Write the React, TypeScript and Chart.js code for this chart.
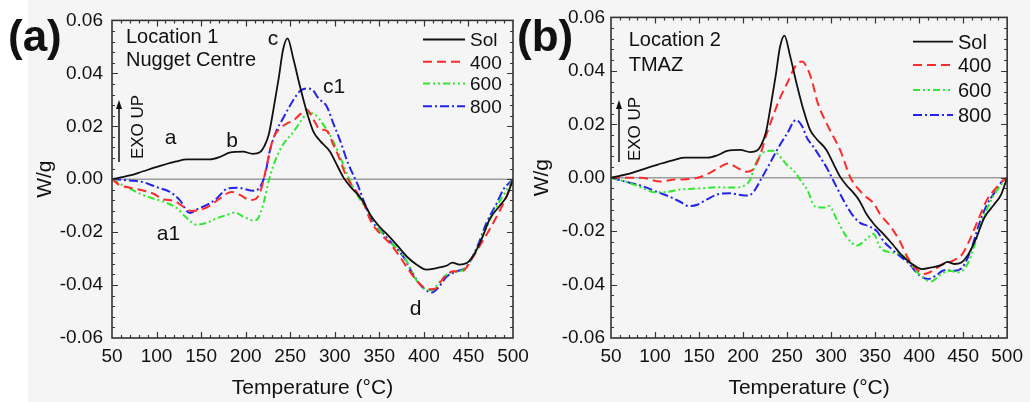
import React, { useEffect, useRef } from "react";
import { Chart, registerables } from "chart.js";

Chart.register(...registerables);

const FONT = "'Liberation Sans', Arial, Helvetica, sans-serif";

// ---------- shared axes ----------
const xTicksMajor = [50, 100, 150, 200, 250, 300, 350, 400, 450, 500];
const seriesNames = ["Sol", "400", "600", "800"];

// ---------- Sol (identical curve in both panels) ----------
const solT = [50, 60, 70, 85, 104, 122, 134, 160, 171, 182, 197, 208, 216, 221, 226, 231, 237, 242, 247, 253.5, 261, 268.5, 276, 283.5, 294.5, 303, 310, 318, 325, 332, 340, 349, 358, 370, 381, 392, 403, 414, 426, 432, 440, 448, 456, 465, 474, 485, 493, 500];
const solW = [0, 0.0007, 0.0014, 0.003, 0.005, 0.0067, 0.0075, 0.0075, 0.0084, 0.01, 0.0104, 0.0096, 0.0102, 0.0125, 0.017, 0.026, 0.038, 0.049, 0.0532, 0.0455, 0.035, 0.0255, 0.018, 0.0145, 0.0105, 0.005, 0.0005, -0.003, -0.0055, -0.0085, -0.0135, -0.0175, -0.0206, -0.025, -0.0293, -0.0323, -0.0342, -0.0336, -0.0326, -0.0315, -0.0323, -0.0317, -0.0286, -0.0225, -0.015, -0.0101, -0.0064, 0];

// ---------- Panel (a) Location 1, Nugget Centre ----------
const a400T = [50, 59, 70, 81, 96, 108, 119, 130, 139, 149, 160, 171, 184, 194, 205, 212, 218, 224, 231, 239, 246, 254, 261, 268.5, 276, 283, 291, 298, 306, 313, 323, 332, 341, 351, 362, 373, 384, 396, 405, 412.5, 422, 433, 444, 452, 463, 474, 484, 493, 500];
const a400W = [0, -0.0023, -0.0032, -0.004, -0.0054, -0.0077, -0.0081, -0.0104, -0.012, -0.0116, -0.01, -0.0073, -0.0048, -0.006, -0.0079, -0.0073, -0.003, 0.0057, 0.0156, 0.0193, 0.021, 0.0223, 0.0245, 0.0263, 0.0226, 0.0189, 0.0183, 0.0133, 0.0072, 0.001, -0.004, -0.0089, -0.0163, -0.0206, -0.0243, -0.0293, -0.0348, -0.0398, -0.0416, -0.0414, -0.0373, -0.0348, -0.0346, -0.0311, -0.025, -0.0188, -0.0126, -0.0064, 0];

const a600T = [50, 59, 70, 85, 96, 108, 123, 134, 145, 156, 168, 179, 188, 197, 209, 214, 220, 226, 233, 242, 254, 262, 270, 278, 287, 297, 306, 315, 326, 336, 347, 358, 370, 381, 390, 399, 409, 418, 429, 441, 448, 459, 471, 482, 493, 500];
const a600W = [0, -0.0017, -0.0036, -0.006, -0.0073, -0.0085, -0.011, -0.0147, -0.0172, -0.0165, -0.0147, -0.0135, -0.0126, -0.0141, -0.0156, -0.0147, -0.0091, -0.0005, 0.0069, 0.0131, 0.018, 0.022, 0.025, 0.0244, 0.0207, 0.0152, 0.0084, 0.001, -0.0064, -0.0114, -0.0175, -0.0225, -0.0262, -0.0311, -0.0373, -0.041, -0.042, -0.0385, -0.0354, -0.0348, -0.033, -0.0268, -0.0175, -0.0101, -0.004, 0];

const a800T = [50, 70, 85, 100, 115, 126, 137.5, 145, 156, 167.5, 179, 190, 209, 216, 222, 227, 235, 242, 252, 261, 268, 275, 281.5, 291, 298, 306, 315, 325, 334, 343, 353, 366, 377, 388, 399, 409, 416, 426, 437, 448, 459, 470.5, 482, 489, 500];
const a800W = [0, -0.0005, -0.0011, -0.003, -0.0048, -0.0079, -0.0128, -0.0114, -0.0098, -0.0073, -0.0036, -0.0032, -0.0044, -0.003, 0.002, 0.0106, 0.0186, 0.023, 0.0291, 0.0333, 0.0343, 0.0338, 0.0306, 0.0275, 0.0214, 0.0146, 0.0059, -0.0015, -0.0095, -0.0163, -0.02, -0.025, -0.0293, -0.036, -0.041, -0.0428, -0.041, -0.0367, -0.0348, -0.033, -0.0262, -0.0163, -0.0089, -0.004, 0];

// ---------- Panel (b) Location 2, TMAZ ----------
const b400T = [50, 69, 84, 106, 122, 140, 155, 170, 183, 193, 204, 211, 219, 226, 234, 241, 250, 260, 267, 273, 278.5, 284.5, 296, 311, 322, 337, 348, 356, 367, 378, 387, 397, 406, 415.5, 427, 438, 449, 458.5, 468, 477, 487, 496, 500];
const b400W = [0, 0, 0, -0.0014, -0.0007, -0.0005, 0.0007, 0.0032, 0.0053, 0.0038, 0.0022, 0.003, 0.0081, 0.0156, 0.023, 0.0291, 0.0353, 0.042, 0.0435, 0.041, 0.036, 0.0283, 0.0196, 0.0098, 0, -0.0064, -0.0095, -0.0138, -0.0181, -0.0237, -0.0299, -0.0342, -0.036, -0.0348, -0.0323, -0.0311, -0.0286, -0.0225, -0.015, -0.0083, -0.004, -0.0009, 0];

const b600T = [50, 69, 84, 99, 110, 129, 151, 170, 189, 200, 207.5, 215, 222.5, 234, 243.5, 249, 258, 266, 273.5, 281, 292, 297.5, 307, 318, 329.5, 340.5, 348, 355.5, 366.5, 378, 384, 393, 404, 413.5, 423, 434, 445, 455, 462, 471.5, 481, 490, 500];
const b600W = [0, -0.0017, -0.0036, -0.0054, -0.0054, -0.0044, -0.004, -0.0036, -0.0037, -0.0032, -0.0011, 0.0057, 0.0094, 0.0101, 0.0073, 0.0051, 0.0024, -0.0013, -0.0049, -0.0106, -0.0112, -0.0106, -0.016, -0.0223, -0.0254, -0.0229, -0.021, -0.026, -0.0279, -0.0285, -0.0299, -0.0336, -0.0373, -0.0388, -0.0367, -0.0348, -0.0354, -0.0323, -0.0262, -0.0163, -0.0089, -0.004, 0];

const b800T = [50, 69, 84, 103, 118, 129, 138, 148, 159, 174, 185, 196, 206, 213, 220.5, 230, 239, 250.5, 260, 267, 273, 279, 285, 296, 305, 315, 324, 333, 342.5, 352, 359.5, 369, 378, 389, 398.5, 410, 419, 428.5, 440, 449, 458.5, 468, 477, 486.5, 494, 500];
const b800W = [0, -0.0017, -0.003, -0.0054, -0.0073, -0.0091, -0.0106, -0.0101, -0.0081, -0.006, -0.0058, -0.0064, -0.0067, -0.0048, -0.0005, 0.0051, 0.0106, 0.0168, 0.0216, 0.0193, 0.0147, 0.012, 0.009, 0.0032, -0.0027, -0.009, -0.0138, -0.0169, -0.0181, -0.02, -0.0237, -0.0268, -0.0293, -0.0323, -0.036, -0.0379, -0.0367, -0.0346, -0.0348, -0.0336, -0.0274, -0.0175, -0.0101, -0.0052, -0.0015, 0];

// ---------- styles ----------
const lineColors = ["#111111", "#ff2a2a", "#2ee82e", "#2323ee"];
const lineDashes: number[][] = [[], [9, 5], [7, 3, 2, 3, 2, 3], [9, 3, 2, 3]];
const lineWidths = [1.8, 2, 2, 2];

type Note = { text: string; x: number; y: number };
type PanelCfg = {
  width: number;
  yScaleWidth: number;
  padRight: number;
  yTickPad: number;
  yTitlePad: number;
  series: [number[], number[]][];
  tag: string;
  tagX: number;
  loc: string[];
  locX: number;
  locBase: number[];
  exoX: number;
  exoY: number;
  arrowX: number;
  legX1: number;
  legX2: number;
  legTextX: number;
  legRows: number[];
  legFont: number;
  notes: Note[];
};

const panelA: PanelCfg = {
  width: 540,
  yScaleWidth: 112,
  padRight: 27,
  yTickPad: 9,
  yTitlePad: 32.4,
  series: [[solT, solW], [a400T, a400W], [a600T, a600W], [a800T, a800W]],
  tag: "(a)",
  tagX: 8,
  loc: ["Location 1", "Nugget Centre"],
  locX: 126,
  locBase: [42.5, 66],
  exoX: 143,
  exoY: 127,
  arrowX: 119,
  legX1: 423,
  legX2: 465,
  legTextX: 470,
  legRows: [39.5, 61.7, 83.5, 106.3],
  legFont: 19,
  notes: [
    { text: "a", x: 170.5, y: 144 },
    { text: "b", x: 232, y: 147 },
    { text: "c", x: 273, y: 45 },
    { text: "c1", x: 334, y: 93 },
    { text: "a1", x: 168.5, y: 240 },
    { text: "d", x: 415.5, y: 315 },
  ],
};

const panelB: PanelCfg = {
  width: 520,
  yScaleWidth: 101,
  padRight: 18,
  yTickPad: 6,
  yTitlePad: 19.9,
  series: [[solT, solW], [b400T, b400W], [b600T, b600W], [b800T, b800W]],
  tag: "(b)",
  tagX: 7,
  loc: ["Location 2", "TMAZ"],
  locX: 118.7,
  locBase: [46, 70.5],
  exoX: 130,
  exoY: 129,
  arrowX: 109,
  legX1: 403,
  legX2: 443,
  legTextX: 448,
  legRows: [41.7, 65, 90, 115],
  legFont: 20,
  notes: [],
};

function makeDecor(cfg: PanelCfg) {
  return {
    id: "decor",
    beforeDatasetsDraw(chart: any) {
      const { ctx, chartArea: a, scales } = chart;
      const y0 = scales.y.getPixelForValue(0);
      ctx.save();
      ctx.strokeStyle = "#9d9d9d";
      ctx.lineWidth = 1.5;
      ctx.beginPath();
      ctx.moveTo(a.left, y0);
      ctx.lineTo(a.right, y0);
      ctx.stroke();
      ctx.restore();
    },
    afterDatasetsDraw(chart: any) {
      const { ctx, chartArea: a, scales } = chart;
      const xs = scales.x;
      const ys = scales.y;
      ctx.save();
      ctx.strokeStyle = "#333333";
      ctx.lineWidth = 1.2;
      ctx.beginPath();
      for (let v = 60; v < 500; v += 10) {
        const px = Math.round(xs.getPixelForValue(v)) + 0.5;
        const len = (v - 50) % 50 === 0 ? 6 : 3;
        ctx.moveTo(px, a.bottom);
        ctx.lineTo(px, a.bottom - len);
        ctx.moveTo(px, a.top);
        ctx.lineTo(px, a.top + len);
      }
      for (let k = 1; k < 30; k++) {
        const v = -0.06 + k * 0.004;
        const py = Math.round(ys.getPixelForValue(v)) + 0.5;
        const len = k % 5 === 0 ? 6 : 3;
        ctx.moveTo(a.left, py);
        ctx.lineTo(a.left + len, py);
        ctx.moveTo(a.right, py);
        ctx.lineTo(a.right - len, py);
      }
      ctx.stroke();
      ctx.lineWidth = 1.6;
      ctx.strokeRect(a.left, a.top, a.right - a.left, a.bottom - a.top);
      ctx.restore();
    },
    afterDraw(chart: any) {
      const { ctx } = chart;
      ctx.save();
      ctx.fillStyle = "#111111";
      // panel tag
      ctx.font = `bold 44px ${FONT}`;
      ctx.textAlign = "left";
      ctx.textBaseline = "alphabetic";
      ctx.fillText(cfg.tag, cfg.tagX, 51);
      // location text
      ctx.font = `20px ${FONT}`;
      cfg.loc.forEach((s, i) => ctx.fillText(s, cfg.locX, cfg.locBase[i]));
      // annotations
      ctx.font = `21px ${FONT}`;
      ctx.textAlign = "center";
      cfg.notes.forEach((n) => ctx.fillText(n.text, n.x, n.y));
      // EXO UP
      ctx.save();
      ctx.translate(cfg.exoX, cfg.exoY);
      ctx.rotate(-Math.PI / 2);
      ctx.font = `17px ${FONT}`;
      ctx.textAlign = "center";
      ctx.textBaseline = "alphabetic";
      ctx.fillText("EXO UP", 0, 0);
      ctx.restore();
      // arrow
      ctx.strokeStyle = "#111111";
      ctx.lineWidth = 1.5;
      ctx.beginPath();
      ctx.moveTo(cfg.arrowX, 162);
      ctx.lineTo(cfg.arrowX, 106);
      ctx.stroke();
      ctx.beginPath();
      ctx.moveTo(cfg.arrowX, 100);
      ctx.lineTo(cfg.arrowX - 3, 109);
      ctx.lineTo(cfg.arrowX + 3, 109);
      ctx.closePath();
      ctx.fill();
      // legend
      ctx.font = `${cfg.legFont}px ${FONT}`;
      ctx.textAlign = "left";
      seriesNames.forEach((name, i) => {
        const y = cfg.legRows[i];
        ctx.save();
        ctx.strokeStyle = lineColors[i];
        ctx.lineWidth = lineWidths[i];
        ctx.setLineDash(lineDashes[i]);
        ctx.beginPath();
        ctx.moveTo(cfg.legX1, y);
        ctx.lineTo(cfg.legX2, y);
        ctx.stroke();
        ctx.restore();
        ctx.fillStyle = "#111111";
        ctx.fillText(name, cfg.legTextX, y + cfg.legFont * 0.358);
      });
      ctx.restore();
    },
  };
}

function buildChart(canvas: HTMLCanvasElement, cfg: PanelCfg) {
  const datasets = cfg.series.map(([t, w], i) => ({
    label: seriesNames[i],
    data: t.map((x, j) => ({ x, y: w[j] })),
    borderColor: lineColors[i],
    borderWidth: lineWidths[i],
    borderDash: lineDashes[i],
    pointRadius: 0,
    fill: false,
    cubicInterpolationMode: "monotone" as const,
  }));
  return new Chart(canvas, {
    type: "line",
    data: { datasets },
    plugins: [makeDecor(cfg)],
    options: {
      animation: false,
      responsive: false,
      devicePixelRatio: 1,
      layout: { padding: { left: 0, right: cfg.padRight, top: 14, bottom: 0 } },
      plugins: { legend: { display: false }, tooltip: { enabled: false } },
      scales: {
        x: {
          type: "linear",
          min: 50,
          max: 500,
          afterFit: (s: any) => {
            s.height = 64;
          },
          afterBuildTicks: (s: any) => {
            s.ticks = xTicksMajor.map((v) => ({ value: v }));
          },
          ticks: {
            font: { family: FONT, size: 19 },
            color: "#111111",
            padding: 7,
            maxRotation: 0,
            autoSkip: false,
          },
          grid: { display: false, drawTicks: false },
          border: { display: false },
          title: {
            display: true,
            text: "Temperature (°C)",
            font: { family: FONT, size: 21 },
            color: "#111111",
            padding: { top: 0, bottom: 1.4 },
          },
        },
        y: {
          type: "linear",
          min: -0.06,
          max: 0.06,
          afterFit: (s: any) => {
            s.width = cfg.yScaleWidth;
          },
          ticks: {
            stepSize: 0.02,
            callback: (v: any) => Number(v).toFixed(2),
            font: { family: FONT, size: 19 },
            color: "#111111",
            padding: cfg.yTickPad,
          },
          grid: { display: false, drawTicks: false },
          border: { display: false },
          title: {
            display: true,
            text: "W/g",
            font: { family: FONT, size: 21 },
            color: "#111111",
            padding: { top: cfg.yTitlePad, bottom: 0 },
          },
        },
      },
    } as any,
  });
}

export default function App() {
  const refA = useRef<HTMLCanvasElement>(null);
  const refB = useRef<HTMLCanvasElement>(null);
  useEffect(() => {
    const ca = buildChart(refA.current!, panelA);
    const cb = buildChart(refB.current!, panelB);
    return () => {
      ca.destroy();
      cb.destroy();
    };
  }, []);
  return (
    <div
      style={{
        position: "fixed",
        left: 0,
        top: 0,
        width: 1030,
        height: 402,
        background: "#f5f5f5",
        overflow: "hidden",
      }}
    >
      <div style={{ position: "absolute", left: 0, top: 0, width: 28, height: 402, background: "#ffffff" }} />
      <canvas
        ref={refA}
        width={540}
        height={402}
        style={{ position: "absolute", left: 0, top: 0, width: 540, height: 402 }}
      />
      <canvas
        ref={refB}
        width={520}
        height={402}
        style={{ position: "absolute", left: 510, top: 0, width: 520, height: 402 }}
      />
    </div>
  );
}
